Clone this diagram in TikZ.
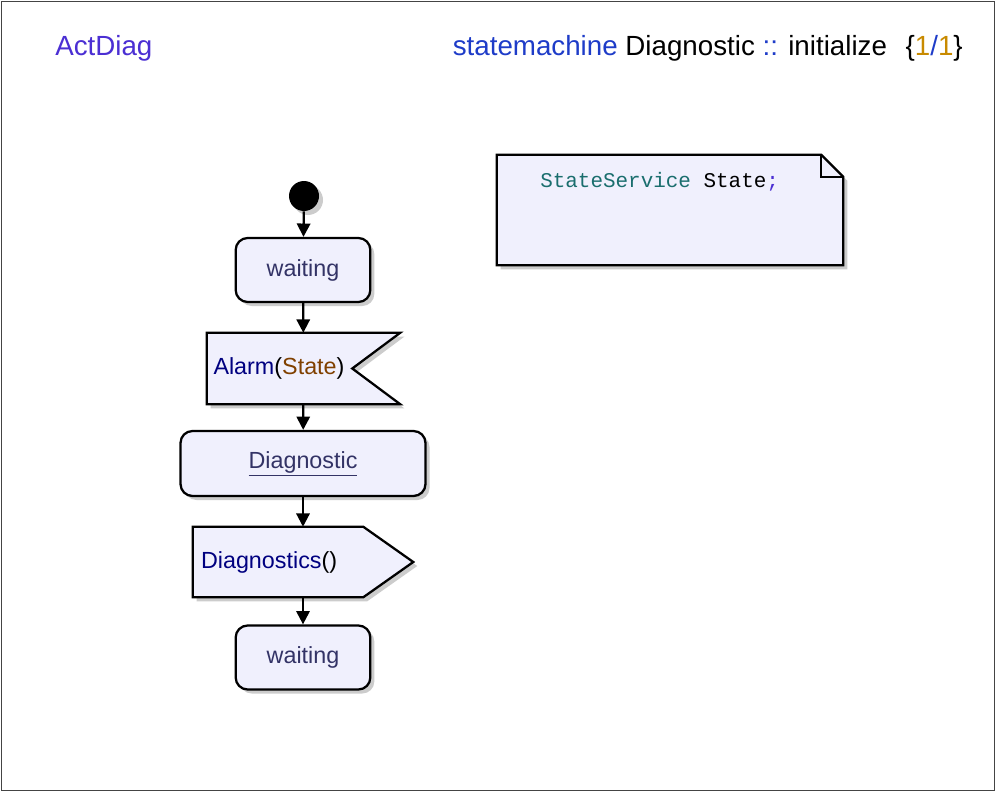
\documentclass[tikz,border=0pt]{standalone}
\usepackage{fontspec}
\setmainfont{Liberation Sans}
\setmonofont{Liberation Mono}
\usetikzlibrary{positioning, arrows.meta, calc, shadows, backgrounds}
\definecolor{pale}{HTML}{F0F0FD}
\definecolor{frame}{HTML}{444444}
\definecolor{titleblue}{HTML}{4B2FD3}
\definecolor{kwblue}{HTML}{1E3CC8}
\definecolor{numamber}{HTML}{C88A00}
\definecolor{stname}{HTML}{333366}
\definecolor{signavy}{HTML}{000080}
\definecolor{argbrown}{HTML}{804000}
\definecolor{typeteal}{HTML}{1A6E6E}
\tikzset{
  shd/.style={drop shadow={shadow xshift=3pt, shadow yshift=-3pt, fill=black!25, opacity=0.8}},
  act/.style={draw=black, fill=pale, rounded corners=9pt, line width=1.7pt, shd,
              font=\fontsize{17.5}{20}\selectfont, text=stname,
              minimum width=101pt, minimum height=48pt},
  sig/.style={draw=black, fill=pale, line width=1.7pt, shd},
  sigtxt/.style={inner xsep=0pt, align=left, font=\fontsize{17.5}{20}\selectfont},
  arr/.style={-{Triangle[length=10pt, width=10pt]}, line width=1.7pt},
  hdr/.style={font=\fontsize{20.8}{24}\selectfont, inner sep=0pt},
  code/.style={font=\ttfamily\fontsize{15.7}{18}\selectfont, inner sep=0pt},
}

\begin{document}
\begin{tikzpicture}[x=0.75pt, y=-0.75pt]
        \useasboundingbox (0,0) rectangle (996,792);
        \draw[frame, line width=0.75pt] (1.5,1.5) rectangle (994.5,790.5);
        % header
        \node[hdr, anchor=west, text=titleblue] (diagname) at (55,48) {ActDiag};
        \node[hdr, anchor=east] (scopename) at (963,48) {\textcolor{kwblue}{statemachine} Diagnostic \textcolor{kwblue}{::} initialize\hspace{14pt}\{\textcolor{numamber}{1}\textcolor{kwblue}{/}\textcolor{numamber}{1}\}};
        % flow
        \node[circle, fill=black, minimum size=22.5pt, inner sep=0pt, shd] (start) at (304,196) {};
        \node[act] (wait1) at (303,270) {waiting};
        \node[sigtxt, minimum width=144.75pt, minimum height=53.25pt, text width=135pt] (alarm) at (303.5,368.5) {\textcolor{signavy}{Alarm}(\textcolor{argbrown}{State})};
        \node[act, minimum width=183.75pt, minimum height=48.75pt] (diag) at (303,463.5) {\underline{Diagnostic}};
        \node[sigtxt, minimum width=165pt, minimum height=52.5pt, text width=153pt] (send) at (303,562) {\textcolor{signavy}{Diagnostics}()};
        \node[act] (wait2) at (303,657.5) {waiting};
        % note
        \node[minimum width=259.5pt, minimum height=82.5pt] (note) at (670,210) {};
        \node[code, anchor=west] (decl) at (540,182) {\textcolor{typeteal}{StateService} State\textcolor{titleblue}{;}};
        \begin{scope}[on background layer]
          \draw[sig] (alarm.north west) -- (alarm.north east) -- ($(alarm.east)+(-48,0)$) -- (alarm.south east) -- (alarm.south west) -- cycle;
          \draw[sig] (send.north west) -- ($(send.north east)+(-50,0)$) -- (send.east) -- ($(send.south east)+(-50,0)$) -- (send.south west) -- cycle;
          \draw[sig] (note.north west) -- ($(note.north east)+(-22,0)$) -- ($(note.north east)+(0,22)$) -- (note.south east) -- (note.south west) -- cycle;
          \draw[line width=1.7pt] ($(note.north east)+(-22,0)$) |- ($(note.north east)+(0,22)$);
        \end{scope}
        \draw[arr] (start) -- (wait1);
        \draw[arr] (wait1) -- (alarm);
        \draw[arr] (alarm) -- (diag);
        \draw[arr] (diag) -- (send);
        \draw[arr] (send.south -| diag) -- (wait2);
      \end{tikzpicture}
\end{document}
